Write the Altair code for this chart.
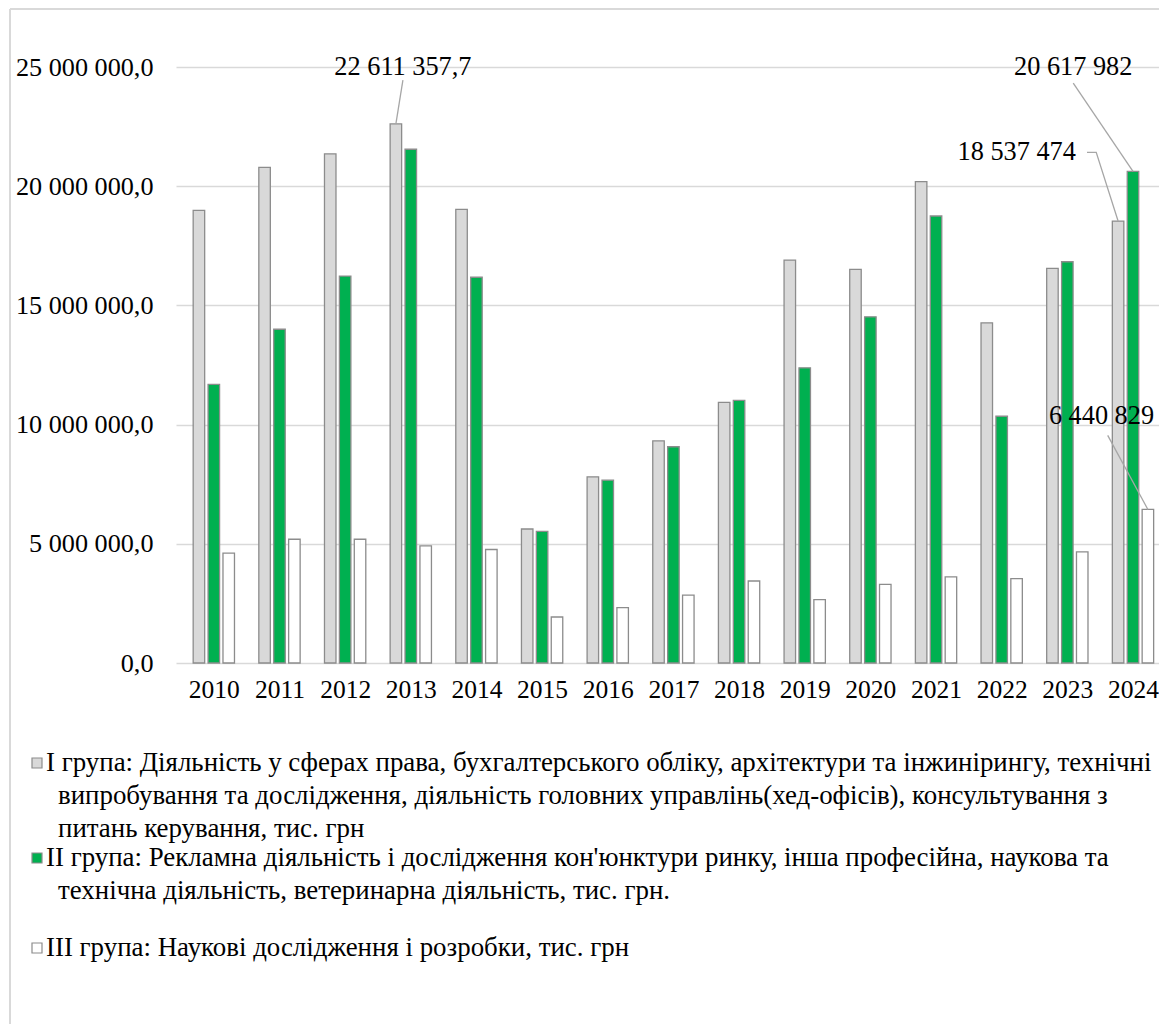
import altair as alt
import pandas as pd

# ---------------- data ----------------
years = list(range(2010, 2025))

group_i = [18_990_000, 20_790_000, 21_360_000, 22_611_357.7, 19_030_000,
           5_620_000, 7_810_000, 9_320_000, 10_930_000, 16_900_000,
           16_510_000, 20_190_000, 14_270_000, 16_550_000, 18_537_474]
group_ii = [11_690_000, 14_000_000, 16_230_000, 21_550_000, 16_180_000,
            5_520_000, 7_670_000, 9_070_000, 11_020_000, 12_380_000,
            14_520_000, 18_750_000, 10_350_000, 16_830_000, 20_617_982]
group_iii = [4_610_000, 5_190_000, 5_190_000, 4_910_000, 4_760_000,
             1_930_000, 2_320_000, 2_850_000, 3_440_000, 2_660_000,
             3_300_000, 3_610_000, 3_540_000, 4_660_000, 6_440_829]

label_i = ["I група: Діяльність у сферах права, бухгалтерського обліку, архітектури та інжинірингу, технічні",
           "випробування та дослідження, діяльність  головних управлінь(хед-офісів), консультування з",
           "питань керування, тис. грн"]
label_ii = ["II група: Рекламна діяльність і дослідження кон'юнктури ринку, інша професійна, наукова та",
            "технічна діяльність, ветеринарна діяльність, тис. грн."]
label_iii = ["III група:  Наукові дослідження і розробки, тис. грн"]

y_ticks = [0, 5_000_000, 10_000_000, 15_000_000, 20_000_000, 25_000_000]

# ---------------- styles ----------------
legend_lines = [label_i, label_ii, label_iii]
series_names = [" ".join(l) for l in legend_lines]
series_values = [group_i, group_ii, group_iii]
fills = ["#d9d9d9", "#00b050", "#ffffff"]
offsets = [-0.227, 0.0, 0.227]
EDGE = "#8c8c8c"
GRID = "#d9d9d9"
FONT = "Liberation Serif, Times New Roman, serif"

rows = []
for k, (name, vals) in enumerate(zip(series_names, series_values)):
    for yr, v in zip(years, vals):
        rows.append({"series": name, "year": yr, "value": v, "xpos": yr + offsets[k]})
df = pd.DataFrame(rows)


def fmt(v, d):
    return f"{v:,.{d}f}".replace(",", " ").replace(".", ",")


# annotations: (series index, year, decimals, label x, label y, align, leader points)
annotations = [
    (0, 2013, 1, 2012.88, 25_000_000, "center", [(2012.88, 24_450_000)]),
    (1, 2024, 0, 2023.09, 25_000_000, "center", [(2023.09, 24_320_000)]),
    (0, 2024, 0, 2023.13, 21_420_000, "right", [(2023.30, 21_420_000), (2023.44, 21_420_000)]),
    (2, 2024, 0, 2023.52, 10_340_000, "center", [(2023.615, 9_550_000)]),
]
ann_rows, lead_rows = [], []
for i, (s, yr, d, lx, ly, al, pts) in enumerate(annotations):
    v = series_values[s][years.index(yr)]
    ann_rows.append({"xpos": lx, "value": ly, "text": fmt(v, d), "align": al})
    for j, (px, py) in enumerate(pts):
        lead_rows.append({"id": i, "order": j, "xpos": px, "value": py})
    lead_rows.append({"id": i, "order": len(pts), "xpos": yr + offsets[s], "value": v})
ann_df = pd.DataFrame(ann_rows)
lead_df = pd.DataFrame(lead_rows)

x_enc = alt.X(
    "xpos:Q",
    scale=alt.Scale(domain=[2009.5, 2024.32], nice=False, zero=False),
    axis=alt.Axis(values=years, format="d", title=None, grid=False, ticks=False,
                  domain=False, labelFont=FONT, labelFontSize=25.5, labelColor="#000000",
                  labelPadding=14, labelFlush=False),
)
y_enc = alt.Y(
    "value:Q",
    stack=None,
    scale=alt.Scale(domain=[0, 25_000_000], nice=False),
    axis=alt.Axis(values=y_ticks, title=None, ticks=False, domain=False,
                  gridColor=GRID, gridWidth=1.5, labelFont=FONT, labelFontSize=26.2,
                  labelColor="#000000", labelPadding=23,
                  labelExpr="replace(replace(replace(format(datum.value, ',.1f'), ',', ' '), ',', ' '), '.', ',')"),
)
color_enc = alt.Color("series:N", scale=alt.Scale(domain=series_names, range=fills), legend=None)

bars = alt.Chart(df).mark_bar(orient="vertical", size=11.5, stroke=EDGE, strokeWidth=1.3).encode(
    x=x_enc, y=y_enc, color=color_enc
)

leaders = alt.Chart(lead_df).mark_line(color="#a6a6a6", strokeWidth=1.3).encode(
    x=x_enc, y=y_enc, detail="id:N", order="order:Q"
)

ann_layers = []
for al in ["center", "right"]:
    ann_layers.append(
        alt.Chart(ann_df).transform_filter(alt.datum.align == al).mark_text(
            align=al, baseline="middle", font=FONT, fontSize=26.3, color="#000000"
        ).encode(x=x_enc, y=y_enc, text="text:N")
    )

one = pd.DataFrame({"k": [0]})

# legend (drawn as text + squares in the area below the plot)
legend_layers = []
first_line_y = [696, 791, 881]
line_h = 33
for k, lines in enumerate(legend_lines):
    y0 = first_line_y[k]
    legend_layers.append(
        alt.Chart(one).mark_square(size=100, fill=fills[k], stroke=EDGE, strokeWidth=1.2, opacity=1).encode(
            x=alt.value(-139), y=alt.value(y0)
        )
    )
    for j, line in enumerate(lines):
        legend_layers.append(
            alt.Chart(one).mark_text(
                text=line, align="left", baseline="middle", font=FONT, fontSize=26.9, color="#000000"
            ).encode(x=alt.value(-130 if j == 0 else -118), y=alt.value(y0 + j * line_h))
        )

# outer frame of the chart (left and top edges)
frame_left = alt.Chart(one).mark_rule(color=GRID, strokeWidth=2).encode(
    x=alt.value(-166), y=alt.value(-58), y2=alt.value(980)
)
frame_top = alt.Chart(one).mark_rule(color=GRID, strokeWidth=2).encode(
    x=alt.value(-166), x2=alt.value(990), y=alt.value(-58)
)

chart = alt.layer(
    frame_left, frame_top, bars, leaders, *ann_layers, *legend_layers
).properties(
    width=983,
    height=596,
    padding={"left": 168, "top": 59, "right": 0, "bottom": 361},
    autosize=alt.AutoSizeParams(type="none"),
).configure_view(stroke=None)

chart.save("out.html", embed_options={"renderer": "svg", "actions": False})
